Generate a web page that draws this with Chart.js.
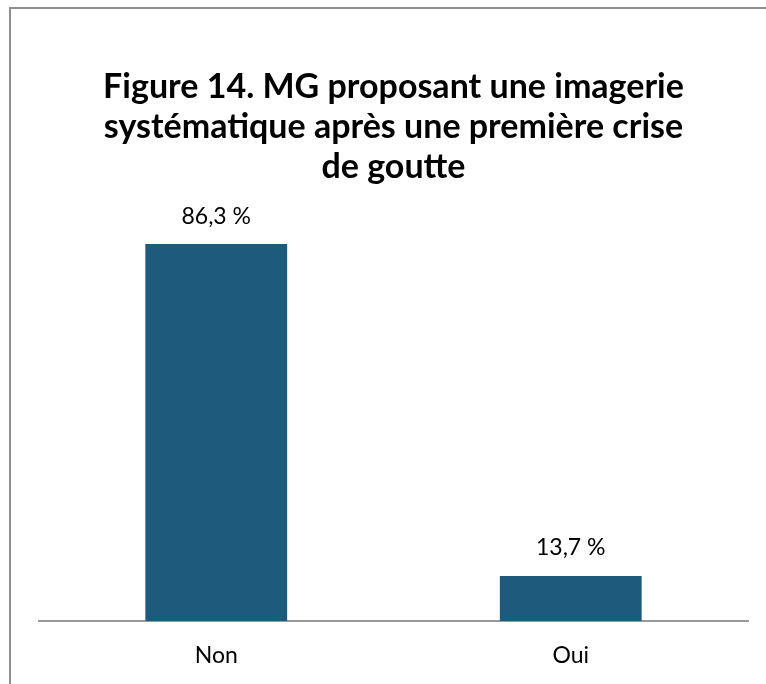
<!DOCTYPE html>
<html>
<head>
<meta charset="utf-8">
<script src="https://cdn.jsdelivr.net/npm/chart.js@4/dist/chart.umd.min.js"></script>
<style>
  html, body { margin: 0; padding: 0; background: #fff; }
  #wrap { position: relative; width: 766px; height: 684px; overflow: hidden; }
  #frame { position: absolute; left: 9px; top: 7px; width: 800px; height: 800px;
           border-left: 2px solid #8f8f8f; border-top: 2px solid #8f8f8f; box-sizing: border-box; }
  canvas { position: absolute; left: 0; top: 0; }
</style>
</head>
<body>
<div id="wrap">
  <div id="frame"></div>
  <canvas id="c" width="766" height="684"></canvas>
</div>
<script>
const categories = ["Non", "Oui"];
const values = [86.3, 13.7];
const titleLines = ["Figure 14. MG proposant une imagerie", "systématique après une première crise", "de goutte"];

const valueLabels = {
  id: 'valueLabels',
  afterDatasetsDraw(chart) {
    const ctx = chart.ctx;
    const meta = chart.getDatasetMeta(0);
    ctx.save();
    ctx.font = '23px Lato';
    ctx.fillStyle = '#000';
    ctx.textAlign = 'center';
    ctx.textBaseline = 'middle';
    meta.data.forEach((bar, i) => {
      const v = chart.data.datasets[0].data[i];
      ctx.fillText(v.toFixed(1).replace('.', ',') + ' %', bar.x, bar.y - 28);
    });
    ctx.restore();
  }
};

new Chart(document.getElementById('c'), {
  type: 'bar',
  data: {
    labels: categories,
    datasets: [{
      data: values,
      backgroundColor: '#1e5a7b',
      borderWidth: 0,
      categoryPercentage: 1,
      barPercentage: 0.4
    }]
  },
  options: {
    responsive: false,
    animation: false,
    layout: { padding: { left: 39, right: 18, top: 47, bottom: 0 } },
    plugins: {
      legend: { display: false },
      tooltip: { enabled: false },
      title: {
        display: true,
        text: titleLines,
        color: '#000',
        font: { family: 'Lato', size: 34, weight: 'bold', lineHeight: 1.176 },
        padding: { top: 20, bottom: 0 }
      }
    },
    scales: {
      x: {
        grid: { display: false, drawTicks: false },
        border: { display: true, color: '#9a9a9a', width: 2 },
        ticks: { color: '#000', font: { family: 'Lato', size: 23 }, padding: 21 },
        afterFit(scale) { scale.height = 63; }
      },
      y: {
        display: false,
        min: 3.86,
        max: 98.8
      }
    }
  },
  plugins: [valueLabels]
});
</script>
</body>
</html>
